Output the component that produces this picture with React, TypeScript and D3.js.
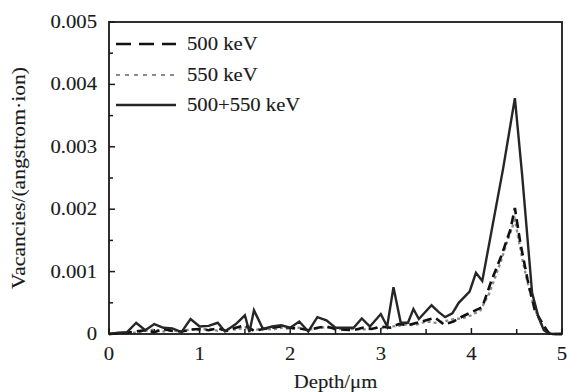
import { useEffect, useRef } from "react";
import * as d3 from "d3";

// values are vacancies/(angstrom·ion) in units of 1e-3
const combinedDepth = [0, 0.1, 0.2, 0.3, 0.4, 0.5, 0.6, 0.7, 0.8, 0.9, 1.0, 1.1, 1.2, 1.28, 1.4, 1.5, 1.55, 1.6, 1.7, 1.8, 1.9, 2.0, 2.1, 2.2, 2.3, 2.4, 2.5, 2.6, 2.7, 2.79, 2.88, 3.0, 3.07, 3.14, 3.22, 3.3, 3.36, 3.42, 3.56, 3.64, 3.71, 3.79, 3.86, 3.98, 4.05, 4.12, 4.35, 4.48, 4.56, 4.67, 4.74, 4.8, 4.85, 4.9, 5.0];
const combinedVac = [0, 0.02, 0.03, 0.18, 0.06, 0.16, 0.1, 0.09, 0.03, 0.24, 0.12, 0.13, 0.18, 0.04, 0.16, 0.3, 0.03, 0.38, 0.08, 0.12, 0.14, 0.1, 0.2, 0.04, 0.27, 0.22, 0.1, 0.1, 0.1, 0.25, 0.12, 0.32, 0.12, 0.75, 0.18, 0.18, 0.4, 0.24, 0.46, 0.35, 0.27, 0.33, 0.5, 0.68, 0.98, 0.85, 2.65, 3.78, 2.55, 0.66, 0.27, 0.06, 0.01, 0, 0];

const kev500Depth = [0, 0.1, 0.2, 0.3, 0.4, 0.5, 0.6, 0.7, 0.8, 0.9, 1.0, 1.1, 1.2, 1.3, 1.4, 1.5, 1.6, 1.7, 1.8, 1.9, 2.0, 2.1, 2.2, 2.3, 2.4, 2.5, 2.6, 2.7, 2.8, 2.9, 3.0, 3.1, 3.2, 3.3, 3.4, 3.5, 3.6, 3.7, 3.8, 3.9, 4.0, 4.12, 4.22, 4.33, 4.43, 4.48, 4.54, 4.62, 4.7, 4.78, 4.85, 4.9, 5.0];
const kev500Vac = [0, 0.01, 0.02, 0.04, 0.06, 0.03, 0.08, 0.05, 0.04, 0.07, 0.08, 0.06, 0.09, 0.05, 0.1, 0.14, 0.05, 0.08, 0.1, 0.12, 0.1, 0.09, 0.06, 0.1, 0.12, 0.08, 0.07, 0.06, 0.1, 0.08, 0.12, 0.1, 0.16, 0.14, 0.18, 0.22, 0.26, 0.15, 0.2, 0.28, 0.35, 0.43, 0.85, 1.25, 1.67, 2.02, 1.46, 0.87, 0.38, 0.18, 0.02, 0, 0];

const kev550Depth = [0, 0.1, 0.2, 0.3, 0.4, 0.5, 0.6, 0.7, 0.8, 0.9, 1.0, 1.1, 1.2, 1.3, 1.4, 1.5, 1.6, 1.7, 1.8, 1.9, 2.0, 2.1, 2.2, 2.3, 2.4, 2.5, 2.6, 2.7, 2.8, 2.9, 3.0, 3.1, 3.2, 3.3, 3.4, 3.5, 3.6, 3.7, 3.8, 3.9, 4.0, 4.1, 4.2, 4.32, 4.4, 4.48, 4.57, 4.65, 4.72, 4.8, 4.88, 5.0];
const kev550Vac = [0, 0.01, 0.03, 0.02, 0.05, 0.07, 0.04, 0.06, 0.03, 0.08, 0.06, 0.09, 0.05, 0.08, 0.07, 0.1, 0.06, 0.09, 0.07, 0.1, 0.08, 0.1, 0.07, 0.09, 0.11, 0.07, 0.09, 0.08, 0.07, 0.1, 0.09, 0.12, 0.13, 0.16, 0.15, 0.2, 0.18, 0.2, 0.24, 0.25, 0.3, 0.38, 0.66, 1.14, 1.5, 1.83, 1.14, 0.64, 0.33, 0.08, 0, 0];

const xTicks = [0, 1, 2, 3, 4, 5];
const xMinor = [0.5, 1.5, 2.5, 3.5, 4.5];
const yTicks = [0, 1, 2, 3, 4, 5];
const yTickLabels = ["0", "0.001", "0.002", "0.003", "0.004", "0.005"];
const yMinor = [0.5, 1.5, 2.5, 3.5, 4.5];

const seriesNames = ["500 keV", "550 keV", "500+550 keV"];

const FONT = "'Liberation Serif', 'Times New Roman', serif";
const INK = "#1a1a1a";

export default function App() {
  const svgRef = useRef<SVGSVGElement>(null);

  useEffect(() => {
    const W = 567, H = 392;
    const margin = { top: 22, right: 5, bottom: 58, left: 109 };
    const width = W - margin.left - margin.right;
    const height = H - margin.top - margin.bottom;

    const svg = d3.select(svgRef.current);
    svg.selectAll("*").remove();

    const g = svg.append("g").attr("transform", `translate(${margin.left},${margin.top})`);

    const x = d3.scaleLinear().domain([0, 5]).range([0, width]);
    const y = d3.scaleLinear().domain([0, 5]).range([height, 0]);

    // stretched serif text, the original's font is wider than Times
    const label = (px: number, py: number, txt: string, anchor: string, sx = 1.15, rot = 0) => {
      svg
        .append("g")
        .attr("transform", `translate(${px},${py}) rotate(${rot}) scale(${sx},1)`)
        .append("text")
        .attr("text-anchor", anchor)
        .attr("font-family", FONT)
        .attr("font-size", 18)
        .attr("fill", INK)
        .attr("stroke", INK)
        .attr("stroke-width", 0.12)
        .text(txt);
    };

    const line = d3
      .line<[number, number]>()
      .x((d) => x(d[0]))
      .y((d) => y(d[1]));

    const zipped = (a: number[], b: number[]) => a.map((v, i) => [v, b[i]] as [number, number]);

    g.append("path")
      .attr("d", line(zipped(kev550Depth, kev550Vac)))
      .attr("fill", "none")
      .attr("stroke", "#8a8a8a")
      .attr("stroke-width", 2.3)
      .attr("stroke-dasharray", "3,3");

    g.append("path")
      .attr("d", line(zipped(kev500Depth, kev500Vac)))
      .attr("fill", "none")
      .attr("stroke", "#111")
      .attr("stroke-width", 2.6)
      .attr("stroke-dasharray", "9,5");

    g.append("path")
      .attr("d", line(zipped(combinedDepth, combinedVac)))
      .attr("fill", "none")
      .attr("stroke", "#262626")
      .attr("stroke-width", 2.4)
      .attr("stroke-linejoin", "miter");

    // frame
    g.append("rect")
      .attr("x", 0)
      .attr("y", 0)
      .attr("width", width)
      .attr("height", height)
      .attr("fill", "none")
      .attr("stroke", INK)
      .attr("stroke-width", 1.8);

    // inward ticks
    const ticks = g.append("g").attr("stroke", INK).attr("stroke-width", 1.5);
    xTicks.forEach((t) => ticks.append("line").attr("x1", x(t)).attr("x2", x(t)).attr("y1", height).attr("y2", height - 6));
    xMinor.forEach((t) => ticks.append("line").attr("x1", x(t)).attr("x2", x(t)).attr("y1", height).attr("y2", height - 5));
    yTicks.forEach((t) => ticks.append("line").attr("x1", 0).attr("x2", 6).attr("y1", y(t)).attr("y2", y(t)));
    yMinor.forEach((t) => ticks.append("line").attr("x1", 0).attr("x2", 4).attr("y1", y(t)).attr("y2", y(t)));

    xTicks.forEach((t) => label(margin.left + x(t), margin.top + height + 26, String(t), "middle"));
    yTicks.forEach((t, i) => label(margin.left - 12, margin.top + y(t) + 6, yTickLabels[i], "end"));

    label(margin.left + width / 2, 388, "Depth/\u03bcm", "middle");
    label(25, margin.top + height / 2, "Vacancies/(angstrom\u00b7ion)", "middle", 1.2, -90);

    // legend
    const legendY = [44, 75, 105];
    const lx0 = margin.left + 7, lx1 = margin.left + 67;
    const legendStyles = [
      { stroke: "#111", dash: "15,8", w: 2.6 },
      { stroke: "#8a8a8a", dash: "4,5", w: 2.2 },
      { stroke: "#262626", dash: "", w: 2.4 },
    ];
    seriesNames.forEach((name, i) => {
      svg
        .append("line")
        .attr("x1", lx0)
        .attr("x2", lx1)
        .attr("y1", legendY[i])
        .attr("y2", legendY[i])
        .attr("stroke", legendStyles[i].stroke)
        .attr("stroke-width", legendStyles[i].w)
        .attr("stroke-dasharray", legendStyles[i].dash || null);
      label(margin.left + 78, legendY[i] + 6, name, "start");
    });
  }, []);

  return (
    <svg
      ref={svgRef}
      width={567}
      height={392}
      style={{ position: "absolute", left: 0, top: 0, background: "#fff" }}
    />
  );
}
